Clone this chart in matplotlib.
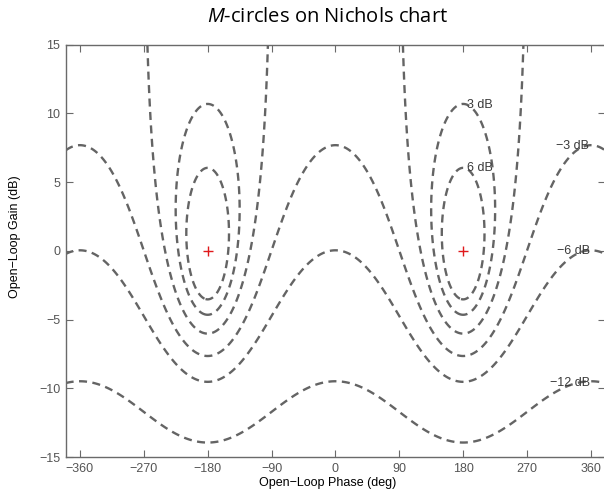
import numpy as np
import matplotlib
matplotlib.use("Agg")
import matplotlib.pyplot as plt

# M-circle levels (closed-loop gain, dB) and where their labels sit
m_levels = [-12, -6, -3, 0, 3, 6]
label_text = ["3 dB", "6 dB", "\u22123 dB", "\u22126 dB", "\u221212 dB"]
label_phase = [185, 185, 311, 312, 303]
label_gain = [10.6, 6.0, 7.6, 0.0, -9.6]

# critical points (-1 in the open-loop plane)
crit_phase = [-180, 180]
crit_gain = [0, 0]

xticks = [-360, -270, -180, -90, 0, 90, 180, 270, 360]
yticks = [-15, -10, -5, 0, 5, 10, 15]

plt.rcParams['font.family'] = ['Liberation Sans', 'DejaVu Sans']
plt.rcParams['mathtext.fontset'] = 'custom'
plt.rcParams['mathtext.it'] = 'Open Sans:italic'
plt.rcParams['mathtext.rm'] = 'Open Sans'
plt.rcParams['lines.dashed_pattern'] = [3.4, 2.3]

fig = plt.figure(figsize=(6.04, 4.92), dpi=100)
ax = fig.add_axes([0.1088, 0.0711, 0.893, 0.838])

# closed-loop magnitude over the open-loop gain/phase plane
phase = np.linspace(-380, 380, 1521)
gain = np.linspace(-15, 15, 601)
P, G = np.meshgrid(phase, gain)
L = 10 ** (G / 20) * np.exp(1j * np.deg2rad(P))
cl = 20 * np.log10(np.abs(L / (1 + L)) + 1e-300)

ax.contour(P, G, cl, levels=m_levels, colors='#646464',
           linewidths=1.7, linestyles='dashed')

ax.plot(crit_phase, crit_gain, '+', color='#e0191b', ms=6.5, mew=1.0)

for t, x, y in zip(label_text, label_phase, label_gain):
    ax.text(x, y, t, fontsize=9, color='#3a3a3a', ha='left', va='center')

ax.set_xlim(-380, 380)
ax.set_ylim(-15, 15)
ax.set_xticks(xticks)
ax.set_yticks(yticks)

grey = '#6a6a6a'
for s in ax.spines.values():
    s.set_color(grey)
    s.set_linewidth(1.0)
ax.tick_params(direction='in', length=5, width=0.8, color=grey,
               labelcolor='#555555', labelsize=9, top=True, right=True, pad=4)

ax.set_xlabel("Open\u2212Loop Phase (deg)", fontsize=9, color='black')
ax.set_ylabel("Open\u2212Loop Gain (dB)", fontsize=9, color='black')
ax.xaxis.set_label_coords(0.486, -0.063)
ax.yaxis.set_label_coords(-0.094, 0.534)
ax.xaxis.label.set_va('center')
ax.yaxis.label.set_va('center')

ax.text(0.486, 1.068, r"$M$-circles on Nichols chart", transform=ax.transAxes,
        ha='center', va='center', fontsize=14.5, family='Open Sans')

fig.savefig("out.png", dpi=100)
